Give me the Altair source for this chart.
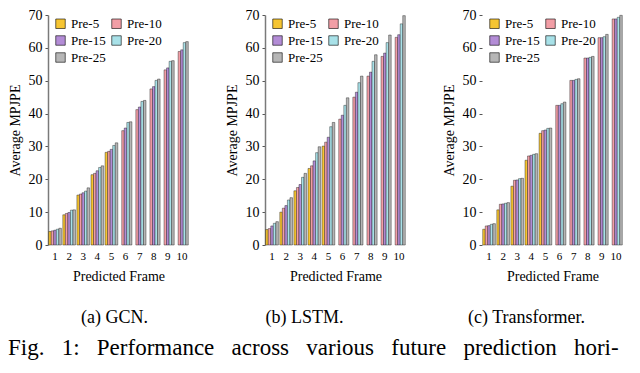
import altair as alt
import pandas as pd

FONT = "Liberation Serif"

frames = [1, 2, 3, 4, 5, 6, 7, 8, 9, 10]
series = ["Pre-5", "Pre-10", "Pre-15", "Pre-20", "Pre-25"]
colors = ["#F6C532", "#F29EA6", "#B38CD6", "#A8E1E8", "#B6B6B6"]
y_ticks = [0, 10, 20, 30, 40, 50, 60, 70]

# (a) GCN
gcn_pre5 = [4.1, 9.2, 15.2, 21.4, 28.2, None, None, None, None, None]
gcn_pre10 = [4.3, 9.6, 15.5, 21.8, 28.5, 34.8, 41.2, 47.5, 53.3, 58.9]
gcn_pre15 = [4.5, 9.9, 15.9, 22.6, 29.1, 35.6, 42.0, 48.2, 53.9, 59.4]
gcn_pre20 = [4.8, 10.6, 16.4, 23.6, 30.3, 37.3, 43.7, 50.1, 55.9, 61.6]
gcn_pre25 = [5.1, 10.7, 17.4, 24.1, 31.1, 37.5, 44.0, 50.5, 56.1, 61.9]

# (b) LSTM
lstm_pre5 = [4.7, 10.0, 16.5, 23.3, 30.1, None, None, None, None, None]
lstm_pre10 = [5.0, 11.2, 17.5, 24.1, 31.3, 38.3, 45.0, 51.4, 57.4, 63.2]
lstm_pre15 = [5.8, 12.0, 18.4, 25.6, 32.8, 39.5, 46.5, 52.6, 58.4, 64.0]
lstm_pre20 = [6.6, 13.7, 20.6, 28.1, 36.0, 42.5, 49.4, 55.9, 61.6, 67.3]
lstm_pre25 = [7.1, 14.4, 21.8, 29.9, 37.3, 44.8, 51.4, 57.9, 63.9, 69.8]

# (c) Transformer
trans_pre5 = [4.8, 10.7, 17.9, 25.8, 34.0, None, None, None, None, None]
trans_pre10 = [5.8, 12.4, 19.7, 27.1, 34.8, 42.5, 50.1, 56.9, 63.1, 68.8]
trans_pre15 = [5.9, 12.5, 19.8, 27.3, 35.0, 42.5, 50.1, 56.9, 63.1, 68.8]
trans_pre20 = [6.3, 12.7, 20.2, 27.6, 35.5, 43.0, 50.4, 57.1, 63.4, 69.3]
trans_pre25 = [6.5, 12.9, 20.3, 27.8, 35.6, 43.5, 50.6, 57.4, 64.1, 69.9]

captions = ["(a)  GCN.", "(b)  LSTM.", "(c)  Transformer."]
NB = "\u00a0"
fig_words = ["Fig.", "1:", "Performance", "across", "various", "future", "prediction", "hori-"]
fig_caption = (NB * 3).join(fig_words)


def to_df(cols):
    rows = []
    for name, vals in zip(series, cols):
        for f, v in zip(frames, vals):
            if v is not None:
                rows.append({"frame": f, "series": name, "value": v})
    return pd.DataFrame(rows)


W, H = 141, 230


def panel(df, caption, domain, cap_dx):
    y_axis = alt.Axis(
        values=y_ticks, grid=False, domain=domain, domainColor="#7a7a7a",
        domainWidth=1.5, tickColor="#555555", tickSize=3, labelFontSize=14,
        labelPadding=3, titleFontSize=14, titlePadding=6,
        labelFont=FONT, titleFont=FONT, labelColor="black", titleColor="black",
        titleFontWeight="normal",
    )
    x_axis = alt.Axis(
        labelAngle=0, domain=False, ticks=False, labelFontSize=11,
        labelPadding=5, titleFontSize=14, titlePadding=8,
        labelFont=FONT, titleFont=FONT, labelColor="black", titleColor="black",
        titleFontWeight="normal",
    )
    return (
        alt.Chart(df)
        .mark_bar(stroke="black", strokeWidth=0.5, strokeOpacity=0.75)
        .encode(
            x=alt.X(
                "frame:O",
                title="Predicted Frame",
                scale=alt.Scale(domain=frames, paddingInner=0.1, paddingOuter=0.05),
                axis=x_axis,
            ),
            xOffset=alt.XOffset("series:N", scale=alt.Scale(domain=series)),
            y=alt.Y("value:Q", title="Average MPJPE",
                    scale=alt.Scale(domain=[0, 70], nice=False), axis=y_axis),
            color=alt.Color(
                "series:N",
                scale=alt.Scale(domain=series, range=colors),
                legend=alt.Legend(
                    title=None, orient="none", legendX=6, legendY=2, columns=2,
                    direction="horizontal",
                    symbolType="square", symbolSize=90, symbolStrokeColor="black",
                    symbolStrokeWidth=0.6, labelFontSize=13, labelOffset=4,
                    labelFont=FONT, labelColor="black",
                    columnPadding=4, rowPadding=3, padding=0,
                ),
            ),
        )
        .properties(
            width=W, height=H,
            title=alt.TitleParams(caption, orient="bottom", anchor="middle",
                                  frame="group", dx=cap_dx, offset=26,
                                  fontSize=18, font=FONT, fontWeight="normal",
                                  color="black"),
        )
    )


pa = panel(to_df([gcn_pre5, gcn_pre10, gcn_pre15, gcn_pre20, gcn_pre25]), captions[0], True, -4)
pb = panel(to_df([lstm_pre5, lstm_pre10, lstm_pre15, lstm_pre20, lstm_pre25]), captions[1], True, -31)
pc = panel(to_df([trans_pre5, trans_pre10, trans_pre15, trans_pre20, trans_pre25]), captions[2], False, -26)

chart = (
    alt.hconcat(pa, pb, pc, spacing=36)
    .resolve_scale(color="independent", x="independent", y="independent")
    .resolve_legend(color="independent")
    .properties(
        padding={"left": 0, "top": 0, "right": 0, "bottom": 0},
        title=alt.TitleParams(fig_caption, orient="bottom", anchor="start",
                              fontSize=23, offset=10, font=FONT,
                              fontWeight="normal", color="black"),
    )
    .configure(font=FONT)
    .configure_view(stroke=None)
)

chart.save("out.html", embed_options={"renderer": "svg", "actions": False})
